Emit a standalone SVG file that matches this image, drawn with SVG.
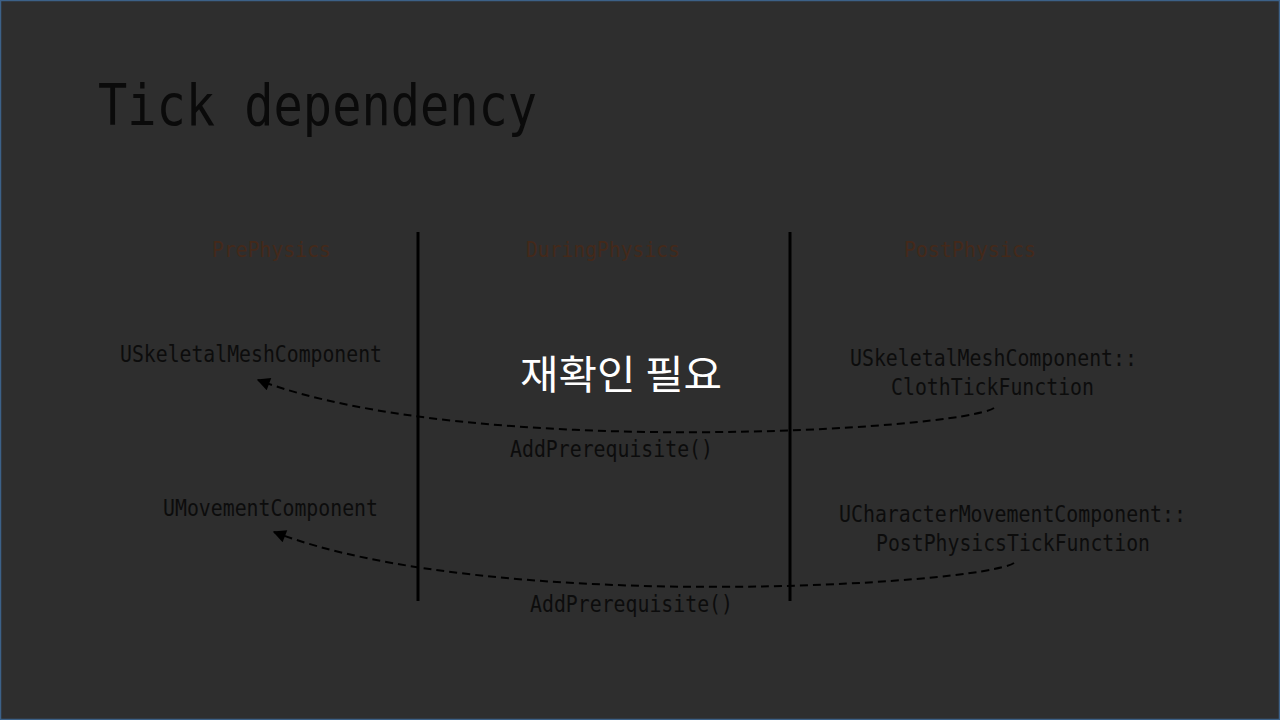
<svg xmlns="http://www.w3.org/2000/svg" width="1280" height="720" viewBox="0 0 1280 720">
<style>
.t{font-family:"DejaVu Sans Mono","Liberation Mono",monospace;fill:#0c0c0c;font-size:23px}
.h{font-family:"DejaVu Sans Mono","Liberation Mono",monospace;fill:#44291a;font-size:22px}
.div{stroke:#000;stroke-width:3}
.c{fill:none;stroke:#000;stroke-width:2;stroke-dasharray:8 5}
</style>
<defs>
<marker id="ah" viewBox="0 0 10 10" refX="9" refY="5" markerWidth="15" markerHeight="13" orient="auto" markerUnits="userSpaceOnUse"><path d="M0,0 L10,5 L0,10 z" fill="#000"/></marker>
</defs>
<rect x="0" y="0" width="1280" height="720" fill="#2e2e2e"/>
<rect x="0.5" y="0.5" width="1279" height="719" fill="none" stroke="#3c6188" stroke-width="1.5"/>
<text x="98" y="125" font-family="DejaVu Sans Mono, monospace" font-size="57" fill="#0a0a0a" textLength="439" lengthAdjust="spacingAndGlyphs">Tick dependency</text>
<g id="headers">
<text class="h" x="212" y="257" textLength="119" lengthAdjust="spacingAndGlyphs">PrePhysics</text>
<text class="h" x="526" y="257" textLength="154" lengthAdjust="spacingAndGlyphs">DuringPhysics</text>
<text class="h" x="904" y="257" textLength="132" lengthAdjust="spacingAndGlyphs">PostPhysics</text>
</g>
<g id="dividers">
<line class="div" x1="418" y1="232" x2="418" y2="601"/>
<line class="div" x1="790" y1="232" x2="790" y2="601"/>
</g>
<g id="n-skel">
<text class="t" x="120" y="362" textLength="262" lengthAdjust="spacingAndGlyphs">USkeletalMeshComponent</text>
</g>
<g id="n-cloth">
<text class="t" x="850" y="366" textLength="287" lengthAdjust="spacingAndGlyphs">USkeletalMeshComponent::</text>
<text class="t" x="891" y="395" textLength="203" lengthAdjust="spacingAndGlyphs">ClothTickFunction</text>
</g>
<g id="n-move">
<text class="t" x="163" y="516" textLength="215" lengthAdjust="spacingAndGlyphs">UMovementComponent</text>
</g>
<g id="n-charmove">
<text class="t" x="839" y="522" textLength="347" lengthAdjust="spacingAndGlyphs">UCharacterMovementComponent::</text>
<text class="t" x="876" y="551" textLength="274" lengthAdjust="spacingAndGlyphs">PostPhysicsTickFunction</text>
</g>
<g id="note">
<text x="520" y="389" font-family="Noto Sans CJK KR, sans-serif" font-size="40" fill="#ffffff" textLength="202" lengthAdjust="spacingAndGlyphs">재확인 필요</text>
</g>
<g id="connectors">
<path class="c" d="M994,408 C960,430 470,460 258,380" marker-end="url(#ah)"/>
<text class="t" x="510" y="457" textLength="203" lengthAdjust="spacingAndGlyphs">AddPrerequisite()</text>
<path class="c" d="M1014,563 C980,585 490,615 274,532" marker-end="url(#ah)"/>
<text class="t" x="530" y="612" textLength="203" lengthAdjust="spacingAndGlyphs">AddPrerequisite()</text>
</g>
</svg>
